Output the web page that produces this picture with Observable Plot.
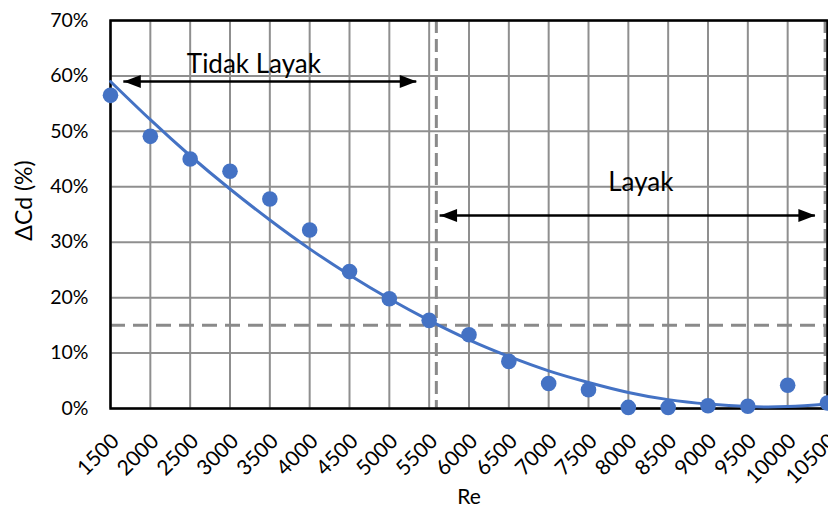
<!DOCTYPE html>
<html>
<head>
<meta charset="utf-8">
<script src="https://cdn.jsdelivr.net/npm/d3@7"></script>
<script src="https://cdn.jsdelivr.net/npm/@observablehq/plot@0.6"></script>
<style>
  html, body { margin: 0; padding: 0; background: #fff; }
  #chart { width: 828px; height: 509px; }
</style>
</head>
<body>
<div id="chart"></div>
<script>
// Reynolds number categories (x)
const re = [1500, 2000, 2500, 3000, 3500, 4000, 4500, 5000, 5500, 6000,
            6500, 7000, 7500, 8000, 8500, 9000, 9500, 10000, 10500];
// Measured ΔCd (%)
const dcd = [56.5, 49.1, 45.0, 42.8, 37.8, 32.2, 24.7, 19.8, 15.9, 13.3,
             8.5, 4.5, 3.4, 0.2, 0.2, 0.5, 0.4, 4.2, 1.0];
// Polynomial trendline values
const trend = [59.0, 52.1, 45.6, 39.6, 34.0, 28.8, 24.1, 19.8, 15.9, 12.4,
               9.4, 6.8, 4.7, 2.9, 1.6, 0.8, 0.35, 0.35, 0.8];
// Tick labels
const xTicks = re;
const yTicks = [0, 10, 20, 30, 40, 50, 60, 70];
// Threshold lines
const limitY = [15];
const limitX = [5590, 10470];
// Annotations
const zones = [
  {label: "Tidak Layak", x1: 1667, x2: 5344, y: 59.0, tx: 3300, ty: 60.6},
  {label: "Layak", x1: 5637, x2: 10348, y: 34.8, tx: 8157, ty: 39.3}
];

const headRight = {draw(ctx) { ctx.moveTo(0, 0); ctx.lineTo(-17, -6.5); ctx.lineTo(-17, 6.5); ctx.closePath(); }};
const headLeft  = {draw(ctx) { ctx.moveTo(0, 0); ctx.lineTo(17, -6.5); ctx.lineTo(17, 6.5); ctx.closePath(); }};

const pts = re.map((r, i) => ({re: r, v: dcd[i]}));
const tr = re.map((r, i) => ({re: r, v: trend[i]}));
const blue = "#4472C4";
const grid = "#8f8f8f";
const dash = "#8a8a8a";

const plot = Plot.plot({
  width: 828,
  height: 509,
  marginLeft: 110,
  marginRight: 1,
  marginTop: 20,
  marginBottom: 101,
  style: {fontFamily: "Lato, sans-serif", fontSize: "19px", color: "#000", background: "#fff"},
  x: {domain: [1500, 10500]},
  y: {domain: [0, 70]},
  marks: [
    Plot.gridX(xTicks, {stroke: grid, strokeOpacity: 1, strokeWidth: 2}),
    Plot.gridY(yTicks, {stroke: grid, strokeOpacity: 1, strokeWidth: 2}),
    Plot.ruleY(limitY, {stroke: dash, strokeWidth: 3, strokeDasharray: "15,8"}),
    Plot.ruleX(limitX, {stroke: dash, strokeWidth: 3, strokeDasharray: "13,6"}),
    Plot.frame({stroke: "#000", strokeWidth: 2.5}),
    Plot.line(tr, {x: "re", y: "v", stroke: blue, strokeWidth: 3, curve: "natural"}),
    Plot.dot(pts, {x: "re", y: "v", r: 7.8, fill: blue, stroke: "none"}),
    Plot.ruleY(zones, {y: "y", x1: "x1", x2: "x2", stroke: "#000", strokeWidth: 2.5}),
    Plot.dot(zones, {x: "x1", y: "y", symbol: headLeft, fill: "#000", stroke: "none", r: 5}),
    Plot.dot(zones, {x: "x2", y: "y", symbol: headRight, fill: "#000", stroke: "none", r: 5}),
    Plot.text(zones, {x: "tx", y: "ty", text: "label", fontSize: 26, fill: "#000", lineAnchor: "bottom", textAnchor: "middle"}),
    Plot.axisY(yTicks, {tickSize: 0, tickPadding: 22, tickFormat: d => d + "%", fontSize: 19.5, label: null}),
    Plot.axisX(xTicks, {tickSize: 0, tickPadding: 29, dx: 5, tickRotate: -45, tickFormat: d => String(d), fontSize: 21, label: null}),
    Plot.text(["Re"], {frameAnchor: "bottom", dy: 95, fontSize: 21, lineAnchor: "bottom", fill: "#000"}),
    Plot.text(["ΔCd (%)"], {frameAnchor: "left", textAnchor: "middle", dx: -86, dy: -14, rotate: -90, fontSize: 23, fill: "#000"})
  ]
});
document.getElementById("chart").appendChild(plot);
</script>
</body>
</html>
